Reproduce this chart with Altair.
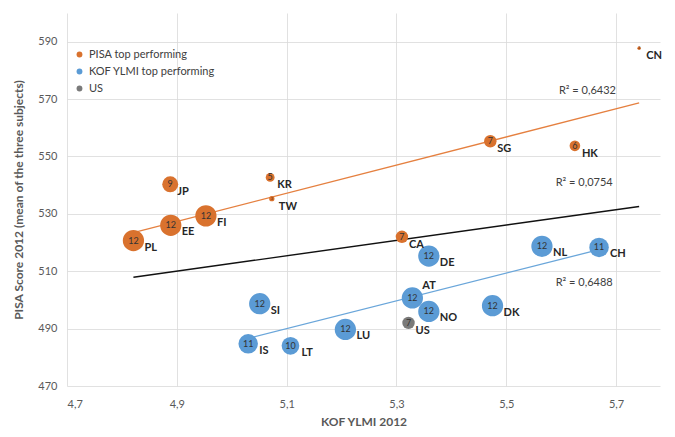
import altair as alt
import pandas as pd

# ---- data ----
codes = ["CN", "SG", "HK", "KR", "TW", "JP", "FI", "EE", "PL", "CA",
         "NL", "CH", "DE", "AT", "NO", "DK", "SI", "LU", "IS", "LT",
         "US"]
kof = [5.742, 5.471, 5.625, 5.070, 5.073, 4.888, 4.953, 4.889, 4.821, 5.310,
       5.565, 5.669, 5.359, 5.329, 5.359, 5.475, 5.051, 5.207, 5.030, 5.107,
       5.322]
pisa = [587.7, 555.3, 553.7, 542.7, 535.3, 540.3, 529.3, 526.0, 520.7, 522.0,
        518.7, 518.3, 515.3, 500.7, 496.0, 498.0, 498.7, 489.7, 484.7, 484.0,
        492.0]
count = [2, 7, 6, 5, 3, 9, 12, 12, 12, 7,
         12, 11, 12, 12, 12, 12, 12, 12, 11, 10,
         7]
groups = ["PISA top performing"] * 10 + ["KOF YLMI top performing"] * 10 + ["US"]

group_names = ["PISA top performing", "KOF YLMI top performing", "US"]
group_colors = ["#D9722E", "#5B9BD5", "#7A7A7A"]

r2_text = ["R² = 0,6432", "R² = 0,0754", "R² = 0,6488"]
r2_kof = [5.596, 5.590, 5.590]
r2_pisa = [572.8, 540.6, 506.0]

x_ticks = [4.7, 4.9, 5.1, 5.3, 5.5, 5.7]
y_ticks = [470, 490, 510, 530, 550, 570, 590]

df = pd.DataFrame({"code": codes, "kof": kof, "pisa": pisa, "n": count, "group": groups})
ann = pd.DataFrame({"label": r2_text, "kof": r2_kof, "pisa": r2_pisa})

FONT = "Lato"
AXIS_GREY = "#595959"
TEXT_DARK = "#404040"

X = alt.X(
    "kof:Q",
    scale=alt.Scale(domain=[4.7, 5.78], nice=False, zero=False),
    axis=alt.Axis(
        values=x_ticks,
        labelExpr="replace(format(datum.value, '.1f'), '.', ',')",
        title="KOF YLMI 2012",
        titleFontWeight="bold",
        titleFontSize=12,
        titleColor=AXIS_GREY,
        titlePadding=7,
        labelColor=AXIS_GREY,
        labelFontSize=11,
        labelPadding=12,
        ticks=False,
        domain=False,
        grid=True,
        gridColor="#D9D9D9",
        gridWidth=0.8,
    ),
)
Y = alt.Y(
    "pisa:Q",
    scale=alt.Scale(domain=[470, 600], nice=False, zero=False),
    axis=alt.Axis(
        values=y_ticks,
        title="PISA Score 2012 (mean of the three subjects)",
        titleFontWeight="bold",
        titleFontSize=12,
        titleColor=AXIS_GREY,
        titlePadding=12,
        labelColor=AXIS_GREY,
        labelFontSize=11,
        labelPadding=10,
        ticks=False,
        domain=False,
        grid=True,
        gridColor="#D9D9D9",
        gridWidth=0.8,
    ),
)

base = alt.Chart(df)

line_pisa = (
    base.transform_filter(alt.datum.group == "PISA top performing")
    .transform_regression("kof", "pisa")
    .mark_line(color="#E58040", strokeWidth=1.3)
    .encode(x=X, y=Y)
)
line_kof = (
    base.transform_filter(alt.datum.group == "KOF YLMI top performing")
    .transform_regression("kof", "pisa")
    .mark_line(color="#6AA6DA", strokeWidth=1.3)
    .encode(x=X, y=Y)
)
line_all = (
    base.transform_regression("kof", "pisa")
    .mark_line(color="#111111", strokeWidth=1.4)
    .encode(x=X, y=Y)
)

bubbles = (
    base.transform_calculate(area="PI * datum.n * datum.n")
    .mark_circle(opacity=1)
    .encode(
        x=X,
        y=Y,
        size=alt.Size("area:Q", scale=None),
        color=alt.Color(
            "group:N",
            scale=alt.Scale(domain=group_names, range=group_colors),
            legend=alt.Legend(
                title=None,
                orient="none",
                legendX=7,
                legendY=36,
                symbolType="circle",
                symbolSize=34,
                symbolStrokeWidth=0,
                labelFontSize=11,
                labelColor=TEXT_DARK,
                labelFont=FONT,
                labelOffset=4,
                rowPadding=5,
            ),
        ),
        order=alt.Order("n:Q", sort="descending"),
    )
)

nums_big = (
    base.transform_filter(alt.datum.n >= 5)
    .mark_text(fontSize=9, color="#333333", font=FONT)
    .encode(x=X, y=Y, text="n:Q")
)
nums_small = (
    base.transform_filter(alt.datum.n < 5)
    .mark_text(fontSize=4, color="#5a2a0a", font=FONT)
    .encode(x=X, y=Y, text="n:Q")
)

lab_big = (
    base.transform_filter("datum.n >= 10 && datum.code != 'AT'")
    .mark_text(align="left", baseline="middle", dx=11, dy=7,
               fontSize=11, fontWeight="bold", color="#262626", font=FONT)
    .encode(x=X, y=Y, text="code:N")
)
lab_small = (
    base.transform_filter("datum.n < 10")
    .mark_text(align="left", baseline="middle", dx=7, dy=8,
               fontSize=11, fontWeight="bold", color="#262626", font=FONT)
    .encode(x=X, y=Y, text="code:N")
)
lab_at = (
    base.transform_filter("datum.code == 'AT'")
    .mark_text(align="left", baseline="middle", dx=10, dy=-12,
               fontSize=11, fontWeight="bold", color="#262626", font=FONT)
    .encode(x=X, y=Y, text="code:N")
)

r2 = (
    alt.Chart(ann)
    .mark_text(align="left", baseline="middle", fontSize=11, color=TEXT_DARK, font=FONT)
    .encode(x=X, y=Y, text="label:N")
)

chart = (
    alt.layer(line_all, line_pisa, line_kof, bubbles, nums_big, nums_small,
              lab_big, lab_small, lab_at, r2)
    .properties(
        width=593,
        height=373,
        autosize=alt.AutoSizeParams(type="none"),
        padding={"left": 67, "top": 13, "right": 15, "bottom": 51},
        background="white",
    )
    .configure(font=FONT)
    .configure_view(stroke=None)
)

chart.save("out.html", embed_options={"renderer": "svg", "actions": False})
